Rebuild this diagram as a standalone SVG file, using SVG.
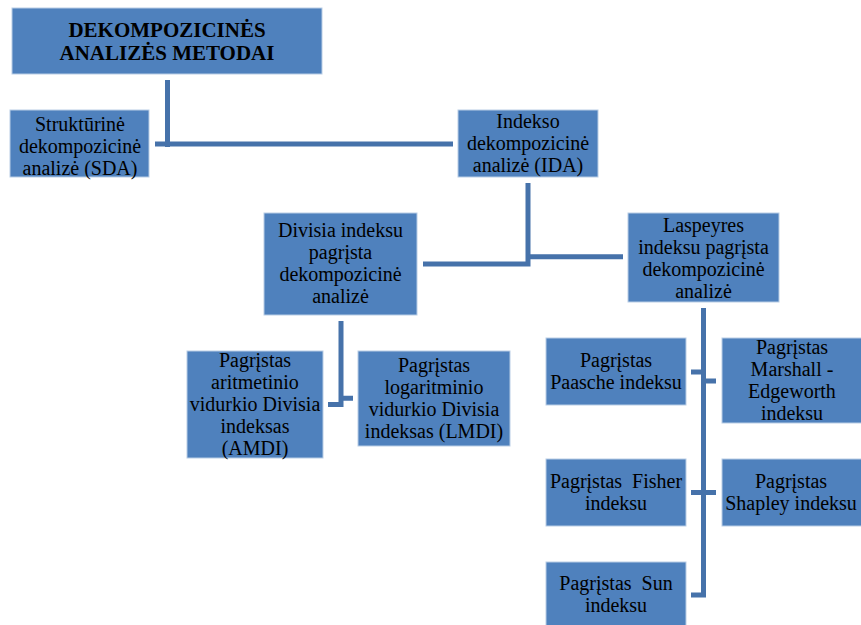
<svg xmlns="http://www.w3.org/2000/svg" width="861" height="625" viewBox="0 0 861 625">
<style>
.box{fill:#4F81BD;stroke:#B9CDE5;stroke-width:1}
.t{font-family:"Liberation Serif","Times New Roman",serif;font-size:20px;fill:#000;text-anchor:middle}
.b{font-weight:bold;font-size:21px}
.c{fill:none;stroke:#4672AA;stroke-width:5;stroke-linecap:butt;stroke-linejoin:miter}
</style>
<rect width="861" height="625" fill="#fff"/>
<g id="connectors">
<path class="c" d="M167.5 80 V147 M155 144 H453"/>
<path class="c" d="M528 183 V266.5 M423 264 H530.5 M528 256.7 H623"/>
<path class="c" d="M341 321 V407 M328 404.5 H343.5 M341 398.3 H353"/>
<path class="c" d="M703.5 308 V597.5 M691 372 H703.5 M703.5 381 H716 M691 492.5 H716 M691 595 H706"/>
</g>
<g id="n-root"><rect class="box" x="12" y="8" width="310" height="66"/>
<text class="t b" x="167" y="37">DEKOMPOZICINĖS</text><text class="t b" x="167" y="60">ANALIZĖS METODAI</text></g>
<g id="n-sda"><rect class="box" x="10" y="110" width="139" height="67"/>
<text class="t" x="80" y="131">Struktūrinė</text><text class="t" x="80" y="153">dekompozicinė</text><text class="t" x="80" y="175">analizė (SDA)</text></g>
<g id="n-ida"><rect class="box" x="458" y="110" width="140" height="67"/>
<text class="t" x="528" y="128">Indekso</text><text class="t" x="528" y="150">dekompozicinė</text><text class="t" x="528" y="172">analizė (IDA)</text></g>
<g id="n-divisia"><rect class="box" x="264" y="213" width="153" height="102"/>
<text class="t" x="340.5" y="237">Divisia indeksu</text><text class="t" x="340.5" y="259">pagrįsta</text><text class="t" x="340.5" y="281">dekompozicinė</text><text class="t" x="340.5" y="303">analizė</text></g>
<g id="n-laspeyres"><rect class="box" x="628" y="213" width="151" height="89"/>
<text class="t" x="703.5" y="232">Laspeyres</text><text class="t" x="703.5" y="254">indeksu pagrįsta</text><text class="t" x="703.5" y="276">dekompozicinė</text><text class="t" x="703.5" y="298">analizė</text></g>
<g id="n-amdi"><rect class="box" x="187" y="351" width="136" height="107"/>
<text class="t" x="255" y="367">Pagrįstas</text><text class="t" x="255" y="389">aritmetinio</text><text class="t" x="255" y="411">vidurkio Divisia</text><text class="t" x="255" y="433">indeksas</text><text class="t" x="255" y="455">(AMDI)</text></g>
<g id="n-lmdi"><rect class="box" x="358" y="351" width="152" height="95"/>
<text class="t" x="434" y="372">Pagrįstas</text><text class="t" x="434" y="394">logaritminio</text><text class="t" x="434" y="416">vidurkio Divisia</text><text class="t" x="434" y="438">indeksas (LMDI)</text></g>
<g id="n-paasche"><rect class="box" x="546" y="338" width="140" height="67"/>
<text class="t" x="616" y="367">Pagrįstas</text><text class="t" x="616" y="389">Paasche indeksu</text></g>
<g id="n-marshall"><rect class="box" x="722" y="338" width="142" height="85"/>
<text class="t" x="792" y="354">Pagrįstas</text><text class="t" x="792" y="376">Marshall -</text><text class="t" x="792" y="398">Edgeworth</text><text class="t" x="792" y="420">indeksu</text></g>
<g id="n-fisher"><rect class="box" x="546" y="459" width="140" height="67"/>
<text class="t" x="616" y="488" xml:space="preserve">Pagrįstas  Fisher</text><text class="t" x="616" y="510">indeksu</text></g>
<g id="n-shapley"><rect class="box" x="722" y="459" width="142" height="67"/>
<text class="t" x="791" y="488">Pagrįstas</text><text class="t" x="791" y="510">Shapley indeksu</text></g>
<g id="n-sun"><rect class="box" x="546" y="562" width="140" height="66"/>
<text class="t" x="616" y="590" xml:space="preserve">Pagrįstas  Sun</text><text class="t" x="616" y="612">indeksu</text></g>
</svg>
